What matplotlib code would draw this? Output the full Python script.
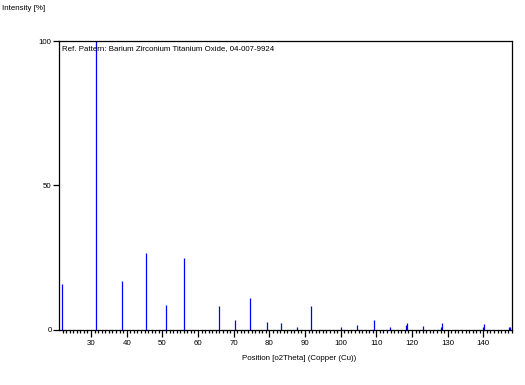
import numpy as np
import matplotlib.pyplot as plt
from matplotlib.ticker import MultipleLocator

# reference pattern peaks: position (deg 2theta), relative intensity (%)
peak_pos = [21.95, 31.5, 38.8, 45.3, 50.9, 56.2, 65.8, 70.5, 74.7, 79.3,
            83.4, 87.7, 91.8, 100.2, 104.7, 109.2, 113.7, 118.2, 118.5,
            123.2, 128.0, 128.5, 139.8, 140.1, 147.1, 147.4]
peak_int = [15.8, 100.0, 16.9, 26.6, 8.6, 24.8, 8.2, 3.4, 11.0, 2.6,
            2.3, 0.8, 8.1, 0.8, 1.6, 3.2, 0.8, 1.6, 2.3,
            1.1, 0.8, 2.2, 1.0, 1.8, 0.8, 0.8]

x_ticks = [30, 40, 50, 60, 70, 80, 90, 100, 110, 120, 130, 140]
y_ticks = [0, 50, 100]

plt.rcParams['font.family'] = ['Liberation Sans', 'DejaVu Sans']
fs = 5.7

fig = plt.figure(figsize=(5.25, 3.85), dpi=100)
ax = fig.add_axes([0.113, 0.144, 0.862, 0.749])

ax.vlines(peak_pos, 0, peak_int, colors='#0000ff', linewidth=0.9)

ax.set_xlim(21.1, 148.0)
ax.set_ylim(0, 100)
ax.set_xticks(x_ticks)
ax.xaxis.set_minor_locator(MultipleLocator(1))
ax.set_yticks(y_ticks)

for s in ax.spines.values():
    s.set_linewidth(0.9)
    s.set_color('black')

ax.tick_params(axis='x', which='major', length=5, width=0.9, pad=2.5, labelsize=fs)
ax.tick_params(axis='x', which='minor', length=2, width=0.9)
ax.tick_params(axis='y', which='major', length=4, width=0.9, pad=1.5, labelsize=fs)

ax.set_xlabel('Position [o2Theta] (Copper (Cu))', fontsize=fs, labelpad=6)
ax.xaxis.label.set_x(0.529)
fig.text(0.004, 0.986, 'Intensity [%]', fontsize=fs, va='top', ha='left')
ax.text(0.006, 0.988, 'Ref. Pattern: Barium Zirconium Titanium Oxide, 04-007-9924',
        transform=ax.transAxes, fontsize=fs, va='top', ha='left')

fig.savefig('out.png', dpi=100)
